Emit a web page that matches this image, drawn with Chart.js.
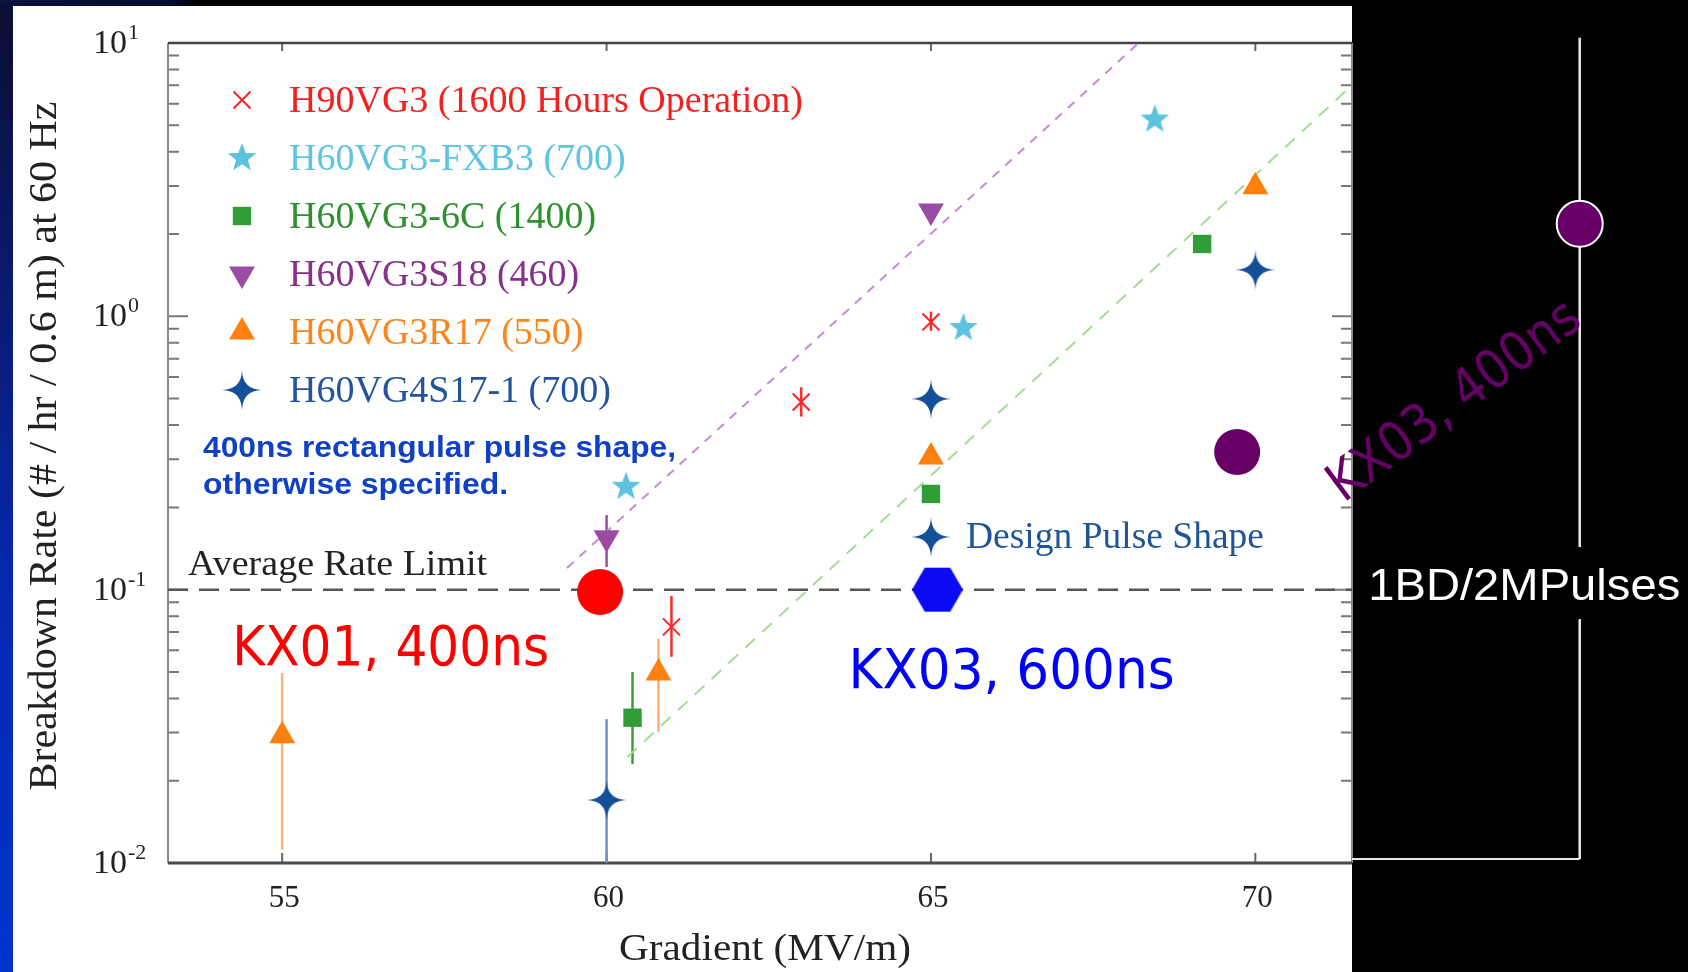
<!DOCTYPE html>
<html>
<head>
<meta charset="utf-8">
<script src="https://cdn.jsdelivr.net/npm/chart.js@4.4.1/dist/chart.umd.min.js"></script>
<style>
html, body { margin: 0; padding: 0; background: #000; overflow: hidden; }
#strip { position: absolute; left: 0; top: 0; width: 13px; height: 972px;
  background: linear-gradient(#0a0e30, #0a1a70 30%, #0628b0 60%, #0033cc); }
#band { position: absolute; left: 0; top: 0; width: 200px; height: 6px;
  background: linear-gradient(90deg, #0a1040, #070b30 85%, #000); }
#panel { position: absolute; left: 13px; top: 6px; width: 1339px; height: 966px; background: #fff; }
#c { position: absolute; left: 0; top: 0; }
</style>
</head>
<body>
<div id="strip"></div>
<div id="band"></div>
<div id="panel"></div>
<canvas id="c" width="1688" height="972"></canvas>
<script>
// axis ranges and ticks
var xMin = 53.24, xMax = 71.49;
var yMin = 0.01, yMax = 10;
var xTicks = [55, 60, 65, 70];
var yDecades = [0.01, 0.1, 1, 10];
var yTickExp = ['-2', '-1', '0', '1'];

// H90VG3 (1600 Hours Operation)
var h90Grad = [65, 63, 61];
var h90Rate = [0.954, 0.486, 0.0731];
var h90Lo = [0.885, 0.43, 0.0568];
var h90Hi = [1.04, 0.55, 0.0948];
// H60VG3-FXB3 (700)
var fxbGrad = [68.45, 65.5, 60.3];
var fxbRate = [5.25, 0.907, 0.238];
// H60VG3-6C (1400)
var c6Grad = [69.18, 65, 60.4];
var c6Rate = [1.84, 0.224, 0.034];
var c6Lo = [null, null, 0.023];
var c6Hi = [null, null, 0.050];
// H60VG3S18 (460)
var s18Grad = [65, 60];
var s18Rate = [2.43, 0.155];
var s18Lo = [null, 0.121];
var s18Hi = [null, 0.1875];
// H60VG3R17 (550)
var r17Grad = [70, 65, 60.8, 55];
var r17Rate = [2.98, 0.306, 0.0496, 0.0292];
var r17Lo = [null, null, 0.0301, 0.0112];
var r17Hi = [null, null, 0.066, 0.0496];
// H60VG4S17-1 (700)
var s17Grad = [70, 65, 60];
var s17Rate = [1.48, 0.499, 0.017];
var s17Lo = [null, null, 0.01];
var s17Hi = [null, null, 0.0336];
// KX results
var kx01Grad = [59.9], kx01Rate = [0.098];
var kx03sGrad = [65.1], kx03sRate = [0.1];
var kx03Grad = [69.72], kx03Rate = [0.319];
var bdGrad = [75], bdRate = [2.18];
var bdLo = [0.01034], bdHi = [10.45];
var bdBaseGrad = [71.49, 75], bdBaseRate = [0.01034, 0.01034];
// dashed fit lines and rate limit
var fitPurpleGrad = [59.39, 68.2], fitPurpleRate = [0.12, 10];
var fitGreenGrad = [60.32, 71.46], fitGreenRate = [0.0244, 6.9];
var limitGrad = [53.24, 71.49], limitRate = [0.1, 0.1];
var designGrad = 65, designRate = 0.156;

var serif = '"Liberation Serif", "Times New Roman", serif';
var sans = '"Liberation Sans", Arial, sans-serif';
var comic = '"DejaVu Sans", sans-serif';

function pts(xs, ys) {
    return xs.map(function (x, i) { return { x: x, y: ys[i] }; });
}

function makeMark(size, draw) {
    var c = document.createElement('canvas');
    c.width = size; c.height = size;
    draw(c.getContext('2d'), size / 2);
    return c;
}

var starImg = makeMark(32, function (g, c) {
    g.fillStyle = '#5cc3df';
    g.beginPath();
    for (var i = 0; i < 10; i++) {
        var r = i % 2 ? 6.3 : 15;
        var a = -Math.PI / 2 + i * Math.PI / 5;
        g.lineTo(c + r * Math.cos(a), c + r * Math.sin(a));
    }
    g.closePath();
    g.fill();
});

var sparkImg = makeMark(44, function (g, c) {
    g.fillStyle = '#144f99';
    g.beginPath();
    var R = 20;
    g.moveTo(c, c - R);
    for (var i = 0; i < 4; i++) {
        var a = -Math.PI / 2 + i * Math.PI / 2;
        var b = a + Math.PI / 4;
        var n = a + Math.PI / 2;
        g.quadraticCurveTo(c + 0.8 * Math.cos(b), c + 0.8 * Math.sin(b), c + R * Math.cos(n), c + R * Math.sin(n));
    }
    g.closePath();
    g.fill();
    g.beginPath();
    g.arc(c, c, 4.5, 0, Math.PI * 2);
    g.fill();
});

var hexImg = makeMark(54, function (g, c) {
    g.fillStyle = '#0a0af5';
    g.beginPath();
    for (var i = 0; i < 6; i++) {
        var a = i * Math.PI / 3;
        g.lineTo(c + 25.5 * Math.cos(a), c + 25.5 * Math.sin(a));
    }
    g.closePath();
    g.fill();
});

function markerSet(label, xs, ys, style, color, radius, extra) {
    var ds = {
        label: label,
        data: pts(xs, ys),
        pointStyle: style,
        pointRadius: radius,
        pointBackgroundColor: color,
        pointBorderColor: color,
        pointBorderWidth: 0,
        backgroundColor: color,
        borderColor: color,
        clip: false,
        order: 0
    };
    for (var k in extra) ds[k] = extra[k];
    return ds;
}

function lineSet(xs, ys, color, width, dash) {
    return {
        data: pts(xs, ys),
        showLine: true,
        borderColor: color,
        borderWidth: width,
        borderDash: dash,
        pointRadius: 0,
        fill: false,
        clip: false,
        order: 10
    };
}

var datasets = [
    markerSet('H90VG3 (1600 Hours Operation)', h90Grad, h90Rate, 'crossRot', '#ff2222', 12,
        { pointBorderWidth: 2, inLegend: true, textColor: '#f42020', errLo: h90Lo, errHi: h90Hi, errColor: '#ff2a2a' }),
    markerSet('H60VG3-FXB3 (700)', fxbGrad, fxbRate, starImg, '#5cc3df', 15,
        { inLegend: true, textColor: '#5ec4e0' }),
    markerSet('H60VG3-6C (1400)', c6Grad, c6Rate, 'rect', '#2f9e37', 13,
        { inLegend: true, textColor: '#2d912f', errLo: c6Lo, errHi: c6Hi, errColor: '#3a9f3a' }),
    markerSet('H60VG3S18 (460)', s18Grad, s18Rate, 'triangle', '#9a4ca3', 15,
        { pointRotation: 180, inLegend: true, textColor: '#87308c', errLo: s18Lo, errHi: s18Hi, errColor: '#9a4ca3' }),
    markerSet('H60VG3R17 (550)', r17Grad, r17Rate, 'triangle', '#ff7f0f', 15,
        { inLegend: true, textColor: '#ff8418', errLo: r17Lo, errHi: r17Hi, errColor: '#ffb070' }),
    markerSet('H60VG4S17-1 (700)', s17Grad, s17Rate, sparkImg, '#144f99', 20,
        { inLegend: true, textColor: '#22549c', errLo: s17Lo, errHi: s17Hi, errColor: '#6d93cc' }),
    markerSet('KX01, 400ns', kx01Grad, kx01Rate, 'circle', '#ff0000', 23, {}),
    markerSet('KX03, 600ns', kx03sGrad, kx03sRate, hexImg, '#0a0af5', 25, {}),
    markerSet('KX03, 400ns', kx03Grad, kx03Rate, 'circle', '#660066', 23, {}),
    // this point lies right of the axis range, so it is drawn by the plugin through the scales
    markerSet('1BD/2MPulses', bdGrad, bdRate, 'circle', '#660066', 23,
        { pointBorderColor: '#ffffff', pointBorderWidth: 2, outside: true,
          errLo: bdLo, errHi: bdHi, errColor: '#e8e8e8' }),
    lineSet(bdBaseGrad, bdBaseRate, '#e8e8e8', 2, []),
    lineSet(fitPurpleGrad, fitPurpleRate, '#c48bd6', 2, [9, 8]),
    lineSet(fitGreenGrad, fitGreenRate, '#a3dc93', 2, [13, 10]),
    lineSet(limitGrad, limitRate, '#555555', 2.5, [20, 11])
];

function fitText(ctx, txt, x, y, font, width, align) {
    ctx.save();
    ctx.font = font;
    ctx.textAlign = align || 'left';
    ctx.textBaseline = 'alphabetic';
    var sx = width ? width / ctx.measureText(txt).width : 1;
    ctx.translate(x, y);
    ctx.scale(sx, 1);
    ctx.fillText(txt, 0, 0);
    ctx.restore();
}

function drawMark(ctx, ds, x, y) {
    ctx.fillStyle = ds.pointBackgroundColor;
    ctx.strokeStyle = ds.pointBorderColor;
    ctx.lineWidth = ds.pointBorderWidth;
    if (Chart.helpers && Chart.helpers.drawPoint) {
        Chart.helpers.drawPoint(ctx, {
            pointStyle: ds.pointStyle, radius: ds.pointRadius,
            rotation: ds.pointRotation || 0, borderWidth: ds.pointBorderWidth
        }, x, y);
    } else if (ds.pointStyle instanceof HTMLCanvasElement) {
        ctx.drawImage(ds.pointStyle, x - ds.pointStyle.width / 2, y - ds.pointStyle.height / 2);
    }
}

var frame = {
    id: 'frame',
    beforeDatasetsDraw: function (chart) {
        var ctx = chart.ctx, a = chart.chartArea;
        var xs = chart.scales.x, ys = chart.scales.y;
        ctx.save();
        // log ticks on left and right
        ctx.strokeStyle = '#777';
        ctx.lineWidth = 2;
        yDecades.forEach(function (d) {
            for (var m = 1; m < 10; m++) {
                var v = d * m;
                if (v > yMax) break;
                var py = ys.getPixelForValue(v);
                var len = m === 1 ? 20 : 11;
                ctx.beginPath();
                ctx.moveTo(a.left, py); ctx.lineTo(a.left + len, py);
                ctx.moveTo(a.right, py); ctx.lineTo(a.right - len, py);
                ctx.stroke();
            }
        });
        // x ticks top and bottom
        ctx.strokeStyle = '#666';
        xTicks.forEach(function (t) {
            var px = xs.getPixelForValue(t);
            ctx.beginPath();
            ctx.moveTo(px, a.top); ctx.lineTo(px, a.top + 8);
            ctx.moveTo(px, a.bottom); ctx.lineTo(px, a.bottom - 10);
            ctx.stroke();
        });
        // frame
        ctx.strokeStyle = '#8a8a8a';
        ctx.lineWidth = 2;
        ctx.beginPath();
        ctx.moveTo(a.left, a.top); ctx.lineTo(a.left, a.bottom);
        ctx.moveTo(a.right, a.top); ctx.lineTo(a.right, a.bottom);
        ctx.stroke();
        ctx.strokeStyle = '#444';
        ctx.lineWidth = 2.5;
        ctx.beginPath();
        ctx.moveTo(a.left, a.top); ctx.lineTo(a.right, a.top);
        ctx.stroke();
        ctx.strokeStyle = '#4a4a4a';
        ctx.lineWidth = 3;
        ctx.beginPath();
        ctx.moveTo(a.left, a.bottom); ctx.lineTo(a.right, a.bottom);
        ctx.stroke();

        // error bars
        chart.data.datasets.forEach(function (ds) {
            if (!ds.errLo) return;
            ctx.strokeStyle = ds.errColor;
            ctx.lineWidth = 2.5;
            ds.data.forEach(function (p, j) {
                if (ds.errLo[j] == null) return;
                var px = xs.getPixelForValue(p.x);
                ctx.beginPath();
                ctx.moveTo(px, ys.getPixelForValue(ds.errHi[j]));
                ctx.lineTo(px, ys.getPixelForValue(ds.errLo[j]));
                ctx.stroke();
            });
        });

        // tick labels
        ctx.fillStyle = '#222';
        yDecades.forEach(function (d, i) {
            var py = ys.getPixelForValue(d);
            fitText(ctx, '10', a.left - 41, py + 10, '34px ' + serif, 0, 'right');
            fitText(ctx, yTickExp[i], a.left - 40, py - 4, '22px ' + serif, 0, 'left');
        });
        xTicks.forEach(function (t) {
            fitText(ctx, String(t), xs.getPixelForValue(t) + 2, a.bottom + 44, '31px ' + serif, 0, 'center');
        });
        // axis titles
        fitText(ctx, 'Gradient (MV/m)', (a.left + a.right) / 2 + 5, a.bottom + 97, '37px ' + serif, 292, 'center');
        ctx.save();
        ctx.translate(a.left - 112, (a.top + a.bottom) / 2 - 7);
        ctx.rotate(-Math.PI / 2);
        fitText(ctx, 'Breakdown Rate (# / hr / 0.6 m) at 60 Hz', 0, 0, '40px ' + serif, 689, 'center');
        ctx.restore();
        ctx.restore();
    },
    afterDatasetsDraw: function (chart) {
        var ctx = chart.ctx, a = chart.chartArea;
        var xs = chart.scales.x, ys = chart.scales.y;
        function X(v) { return xs.getPixelForValue(v); }
        function Y(v) { return ys.getPixelForValue(v); }
        ctx.save();

        // points beyond the axis range
        chart.data.datasets.forEach(function (ds) {
            if (!ds.outside) return;
            ds.data.forEach(function (p) { drawMark(ctx, ds, X(p.x), Y(p.y)); });
        });

        // legend
        var rows = chart.data.datasets.filter(function (d) { return d.inLegend; });
        rows.forEach(function (ds, i) {
            var cy = a.top + 57 + i * 58;
            drawMark(ctx, ds, a.left + 74, cy);
            ctx.fillStyle = ds.textColor;
            fitText(ctx, ds.label, a.left + 121, cy + 12, '38px ' + serif, 0, 'left');
        });

        // notes
        ctx.fillStyle = '#1040c8';
        fitText(ctx, '400ns rectangular pulse shape,', X(53.78), Y(0.306), 'bold 29px ' + sans, 473);
        fitText(ctx, 'otherwise specified.', X(53.78), Y(0.224), 'bold 29px ' + sans, 305);
        ctx.fillStyle = '#222';
        fitText(ctx, 'Average Rate Limit', X(53.55), Y(0.113), '35px ' + serif, 299);

        // design pulse shape key
        drawMark(ctx, rows[5], X(designGrad), Y(designRate));
        ctx.fillStyle = '#1f5597';
        fitText(ctx, 'Design Pulse Shape', X(65.54), Y(0.142), '37px ' + serif, 298);

        // KX labels
        ctx.fillStyle = '#ff0000';
        fitText(ctx, 'KX01, 400ns', X(54.23), Y(0.053), '56px ' + comic, 317);
        ctx.fillStyle = '#0000ff';
        fitText(ctx, 'KX03, 600ns', X(63.73), Y(0.0436), '56px ' + comic, 326);
        ctx.save();
        ctx.translate(X(71.36), Y(0.207));
        ctx.rotate(-36.6 * Math.PI / 180);
        ctx.fillStyle = '#660066';
        fitText(ctx, 'KX03, 400ns', 0, 0, '54px ' + comic, 300);
        ctx.restore();

        // 1BD/2MPulses box
        var base = Y(0.0916);
        ctx.fillStyle = '#000';
        ctx.fillRect(a.right + 1, base - 53, chart.width - a.right, 72);
        ctx.fillStyle = '#ffffff';
        fitText(ctx, '1BD/2MPulses', X(71.74), base, '44px ' + sans, 312);
        ctx.restore();
    }
};

var chart = new Chart(document.getElementById('c'), {
    type: 'scatter',
    data: { datasets: datasets },
    options: {
        responsive: false,
        animation: false,
        events: [],
        layout: { padding: { left: 168, right: 336, top: 43, bottom: 109 } },
        scales: {
            x: { type: 'linear', min: xMin, max: xMax, display: false },
            y: { type: 'logarithmic', min: yMin, max: yMax, display: false }
        },
        plugins: { legend: { display: false }, tooltip: { enabled: false } }
    },
    plugins: [frame]
});
</script>
</body>
</html>
